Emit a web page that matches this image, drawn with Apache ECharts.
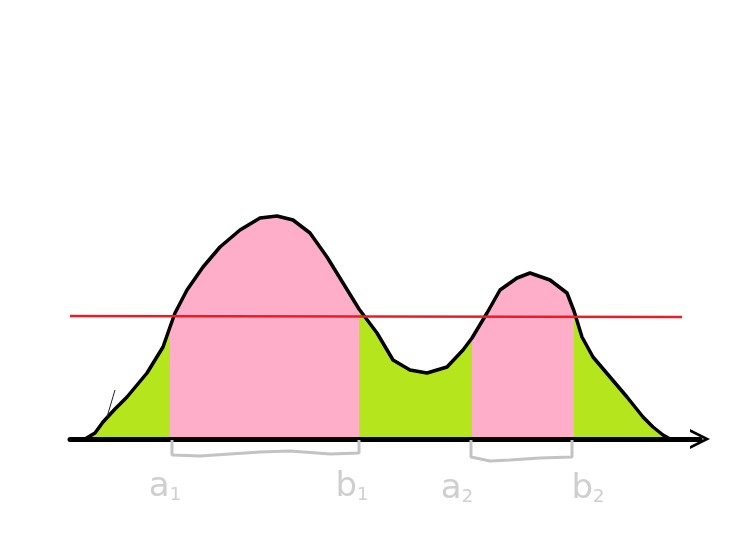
<!DOCTYPE html>
<html><head><meta charset="utf-8">
<script src="https://cdn.jsdelivr.net/npm/echarts@6/dist/echarts.min.js"></script>
<style>html,body{margin:0;padding:0;background:#fff}#c{width:746px;height:534px}</style>
</head><body><div id="c"></div>
<script>
// curve: x position, height above baseline
const curveX = [85,95,103,115,127,147,163,170,175,187,203,220,240,260,277,293,310,327,343,359,377,393,410,427,447,463,472,487,500,517,530,550,567,574,582,593,610,627,643,653,663,670];
const curveY = [0,6,17,30,42,66,92,112,126,149,172,192,209,221,223,219,206,182,156,130,106,79,69,66,72,89,101,126,149,161,166,159,146,128,102,82,62,42,22,12,4,0];
// pink intervals [a, b]
const intervals = [[170,359],[472,574]];
// threshold (red line)
const thresholdX = [70,682];
const thresholdY = [123,122];
// braces under the intervals
const brace1X = [172,172,200,230,260,290,330,359,359];
const brace1Y = [-1,-16,-17,-15,-13,-12,-15,-14,-1];
const brace2X = [471,471,490,510,540,572,572];
const brace2Y = [-1,-18,-22,-21,-19,-18,-1];
// labels
const labelText = ['a','b','a','b'];
const labelSub = ['1','1','2','2'];
const labelX = [165,352,457,588];
const labelY = [-48,-48,-50,-50];
// stray pen stroke
const strokeX = [107,115];
const strokeY = [22,49];

const zip = (xs, ys) => xs.map((x, i) => [x, ys[i]]);
const curve = zip(curveX, curveY);
const pinkSeries = intervals.map(([a, b]) => ({
  type: 'line', data: curve.filter(p => p[0] >= a && p[0] <= b),
  symbol: 'none', lineStyle: {width: 0}, areaStyle: {color: '#ffaec9', opacity: 1}, z: 3, silent: true
}));

const chart = echarts.init(document.getElementById('c'), null, {renderer: 'canvas'});
chart.setOption({
  animation: false,
  backgroundColor: '#fff',
  grid: {left: 70, right: 46, top: 39, bottom: 0},
  xAxis: {
    type: 'value', min: 70, max: 700, z: 5,
    axisLine: {onZero: true, lineStyle: {color: '#000', width: 5},
      symbol: ['none', 'path://M0,20 L10,0 L20,20 L17,20 L10,6 L3,20 Z'], symbolSize: [24, 20]},
    axisTick: {show: false}, axisLabel: {show: false}, splitLine: {show: false}
  },
  yAxis: {type: 'value', min: -95, max: 400, show: false, splitLine: {show: false}},
  series: [
    {type: 'line', data: curve, symbol: 'none', lineStyle: {width: 0},
     areaStyle: {color: '#b5e61d', opacity: 1}, z: 2, silent: true},
    ...pinkSeries,
    {type: 'line', data: curve, symbol: 'none',
     lineStyle: {color: '#000', width: 3.5, join: 'round'}, z: 4, silent: true},
    {type: 'line', data: zip(thresholdX, thresholdY), symbol: 'none',
     lineStyle: {color: '#ed1c24', width: 2.5}, z: 6, silent: true},
    {type: 'line', data: zip(brace1X, brace1Y), symbol: 'none',
     lineStyle: {color: '#c3c3c3', width: 3}, z: 5, silent: true},
    {type: 'line', data: zip(brace2X, brace2Y), symbol: 'none',
     lineStyle: {color: '#c3c3c3', width: 3}, z: 5, silent: true},
    {type: 'line', data: zip(strokeX, strokeY), symbol: 'none',
     lineStyle: {color: '#222', width: 1}, z: 5, silent: true},
    {type: 'scatter', symbolSize: 0, z: 7, silent: true,
     data: labelX.map((x, i) => ({value: [x, labelY[i]],
       label: {show: true, position: 'inside',
         formatter: '{m|' + labelText[i] + '}{s|' + labelSub[i] + '}',
         rich: {
           m: {fontFamily: 'DejaVu Sans', fontSize: 34, color: '#c3c3c3'},
           s: {fontFamily: 'DejaVu Sans', fontSize: 18, color: '#c3c3c3', padding: [16, 0, 0, 0]}
         }}}))}
  ]
});
</script></body></html>
